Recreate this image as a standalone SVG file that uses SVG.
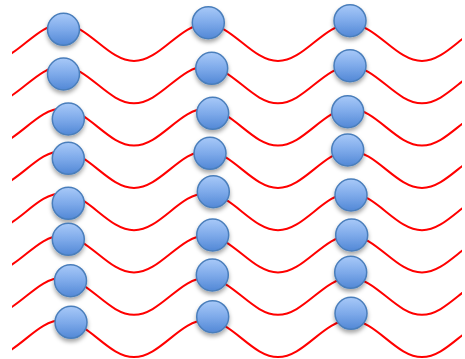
<svg xmlns="http://www.w3.org/2000/svg" xmlns:xlink="http://www.w3.org/1999/xlink" width="465" height="359" viewBox="0 0 465 359">
<style>
.wave{fill:none;stroke:#ff0000;stroke-width:2;}
.ball{fill:url(#bg);stroke:#4a7ebb;stroke-width:1.5;filter:url(#sh);}
</style>
<defs>
<linearGradient id="bg" x1="0" y1="0" x2="0" y2="1">
<stop offset="0" stop-color="#a8c9f8"/>
<stop offset="0.5" stop-color="#7eaaea"/>
<stop offset="1" stop-color="#5288d6"/>
</linearGradient>
<filter id="sh" x="-50%" y="-50%" width="200%" height="200%">
<feDropShadow dx="0" dy="3" stdDeviation="2.2" flood-color="#000" flood-opacity="0.35"/>
</filter>
<clipPath id="cl"><rect x="12" y="0" width="450" height="359"/></clipPath>
<path id="w" d="M-10,61 C16.2,61 35.8,24 62,24 S107.8,61 134,61 S179.8,24 206,24 S251.8,61 278,61 S323.8,24 350,24 S395.8,61 422,61 S467.8,24 494,24"/>
</defs>
<g id="waves" clip-path="url(#cl)">
<use xlink:href="#w" class="wave"/>
<use xlink:href="#w" class="wave" transform="translate(0,42.3)"/>
<use xlink:href="#w" class="wave" transform="translate(0,84.6)"/>
<use xlink:href="#w" class="wave" transform="translate(0,126.9)"/>
<use xlink:href="#w" class="wave" transform="translate(0,169.2)"/>
<use xlink:href="#w" class="wave" transform="translate(0,211.5)"/>
<use xlink:href="#w" class="wave" transform="translate(0,253.8)"/>
<use xlink:href="#w" class="wave" transform="translate(0,296.1)"/>
</g>
<g id="col1">
<circle class="ball" cx="63.5" cy="29.3" r="16"/>
<circle class="ball" cx="63.5" cy="74" r="16"/>
<circle class="ball" cx="68.3" cy="119" r="16"/>
<circle class="ball" cx="68.3" cy="158.3" r="16"/>
<circle class="ball" cx="68.3" cy="203.3" r="16"/>
<circle class="ball" cx="68.3" cy="239.3" r="16"/>
<circle class="ball" cx="70.5" cy="280.7" r="16"/>
<circle class="ball" cx="71" cy="322.3" r="16"/>
</g>
<g id="col2">
<circle class="ball" cx="208.3" cy="22.7" r="16"/>
<circle class="ball" cx="211.7" cy="68.3" r="16"/>
<circle class="ball" cx="212.7" cy="113.3" r="16"/>
<circle class="ball" cx="210" cy="153.3" r="16"/>
<circle class="ball" cx="213.3" cy="191.7" r="16"/>
<circle class="ball" cx="212.7" cy="235" r="16"/>
<circle class="ball" cx="212.3" cy="275" r="16"/>
<circle class="ball" cx="212.7" cy="316.7" r="16"/>
</g>
<g id="col3">
<circle class="ball" cx="350" cy="20.7" r="16"/>
<circle class="ball" cx="350" cy="65.7" r="16"/>
<circle class="ball" cx="347.7" cy="111.7" r="16"/>
<circle class="ball" cx="347.7" cy="150" r="16"/>
<circle class="ball" cx="351" cy="195" r="16"/>
<circle class="ball" cx="351.7" cy="235" r="16"/>
<circle class="ball" cx="350.7" cy="272.3" r="16"/>
<circle class="ball" cx="351" cy="313.3" r="16"/>
</g>
</svg>
